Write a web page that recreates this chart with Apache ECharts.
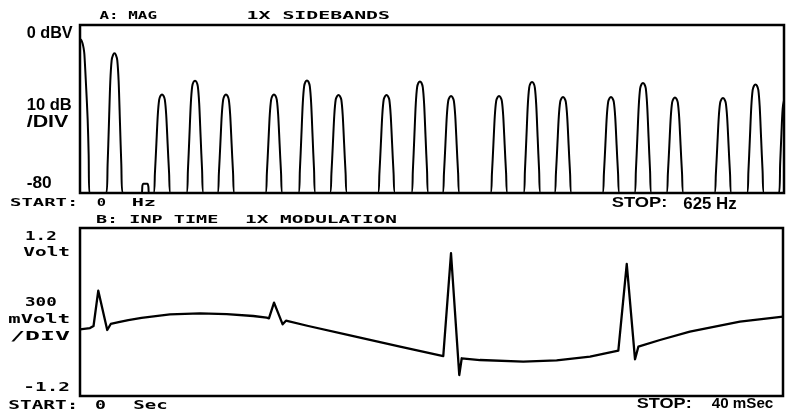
<!DOCTYPE html>
<html>
<head>
<meta charset="utf-8">
<script src="https://cdn.jsdelivr.net/npm/echarts@6/dist/echarts.min.js"></script>
<style>
  html, body { margin: 0; padding: 0; background: #fff; }
  #chart { width: 791px; height: 415px; }
</style>
</head>
<body>
<div id="chart"></div>
<script>
// Trace A: magnitude spectrum, [frequency Hz, level dBV]
const spectrumTrace = [
  [0, -6.7], [1.2, -7.3], [2.3, -8.8], [3.2, -11], [3.9, -14], [5.3, -28], [6.8, -45], [7.7, -62], [8.4, -80],
  [23.3, -80], [24.5, -66.7], [25.7, -46.8], [26.9, -26.8], [28.1, -16.8], [29.3, -14.3], [30.6, -13.5], [31.9, -14.3], [33.1, -16.8], [34.3, -26.8], [35.5, -46.8], [36.7, -66.7], [37.9, -80],
  [54.8, -80], [55.4, -76.5], [56.2, -75.6], [59.8, -75.6], [60.7, -77], [61.2, -80],
  [65.2, -80], [66.5, -70.6], [67.8, -56.6], [69.1, -42.5], [70.3, -35.5], [71.5, -33.7], [72.8, -33.1], [74.1, -33.7], [75.3, -35.5], [76.5, -42.5], [77.8, -56.6], [79.1, -70.6], [80.4, -80],
  [94.5, -80], [95.8, -69.3], [97.1, -53.3], [98.4, -37.2], [99.6, -29.2], [100.8, -27.1], [102.1, -26.5], [103.4, -27.1], [104.6, -29.2], [105.8, -37.2], [107.1, -53.3], [108.4, -69.3], [109.7, -80],
  [122.0, -80], [123.3, -70.6], [124.6, -56.6], [125.9, -42.5], [127.1, -35.5], [128.3, -33.7], [129.6, -33.1], [130.9, -33.7], [132.1, -35.5], [133.3, -42.5], [134.6, -56.6], [135.9, -70.6], [137.2, -80],
  [164.6, -80], [165.9, -70.6], [167.2, -56.6], [168.5, -42.5], [169.7, -35.5], [170.9, -33.7], [172.2, -33.1], [173.5, -33.7], [174.7, -35.5], [175.9, -42.5], [177.2, -56.6], [178.5, -70.6], [179.8, -80],
  [193.9, -80], [195.2, -69.2], [196.5, -53.2], [197.8, -37.1], [199.0, -29.1], [200.2, -27.0], [201.5, -26.4], [202.8, -27.0], [204.0, -29.1], [205.2, -37.1], [206.5, -53.2], [207.8, -69.2], [209.1, -80],
  [221.9, -80], [223.2, -70.7], [224.5, -56.7], [225.8, -42.6], [227.0, -35.6], [228.2, -33.9], [229.5, -33.3], [230.8, -33.9], [232.0, -35.6], [233.2, -42.6], [234.5, -56.7], [235.8, -70.7], [237.1, -80],
  [264.5, -80], [265.8, -70.7], [267.1, -56.7], [268.4, -42.6], [269.6, -35.6], [270.8, -33.9], [272.1, -33.3], [273.4, -33.9], [274.6, -35.6], [275.8, -42.6], [277.1, -56.7], [278.4, -70.7], [279.7, -80],
  [294.2, -80], [295.5, -69.4], [296.8, -53.5], [298.1, -37.5], [299.3, -29.6], [300.5, -27.5], [301.8, -26.9], [303.1, -27.5], [304.3, -29.6], [305.5, -37.5], [306.8, -53.5], [308.1, -69.4], [309.4, -80],
  [321.8, -80], [323.1, -70.8], [324.4, -56.9], [325.7, -43.0], [326.9, -36.1], [328.1, -34.4], [329.4, -33.8], [330.7, -34.4], [331.9, -36.1], [333.1, -43.0], [334.4, -56.9], [335.7, -70.8], [337.0, -80],
  [364.4, -80], [365.7, -70.8], [367.0, -56.9], [368.3, -43.0], [369.5, -36.1], [370.7, -34.4], [372.0, -33.8], [373.3, -34.4], [374.5, -36.1], [375.7, -43.0], [377.0, -56.9], [378.3, -70.8], [379.6, -80],
  [393.7, -80], [395.0, -69.4], [396.3, -53.6], [397.6, -37.7], [398.8, -29.8], [400.0, -27.7], [401.3, -27.1], [402.6, -27.7], [403.8, -29.8], [405.0, -37.7], [406.3, -53.6], [407.6, -69.4], [408.9, -80],
  [421.2, -80], [422.5, -70.9], [423.8, -57.2], [425.1, -43.4], [426.3, -36.6], [427.5, -34.9], [428.8, -34.3], [430.1, -34.9], [431.3, -36.6], [432.5, -43.4], [433.8, -57.2], [435.1, -70.9], [436.4, -80],
  [463.8, -80], [465.1, -70.9], [466.4, -57.2], [467.7, -43.4], [468.9, -36.6], [470.1, -34.9], [471.4, -34.3], [472.7, -34.9], [473.9, -36.6], [475.1, -43.4], [476.4, -57.2], [477.7, -70.9], [479.0, -80],
  [492.2, -80], [493.5, -69.5], [494.8, -53.8], [496.1, -38.1], [497.3, -30.2], [498.5, -28.2], [499.8, -27.6], [501.1, -28.2], [502.3, -30.2], [503.5, -38.1], [504.8, -53.8], [506.1, -69.5], [507.4, -80],
  [520.6, -80], [521.9, -70.9], [523.2, -57.3], [524.5, -43.6], [525.7, -36.8], [526.9, -35.1], [528.2, -34.5], [529.5, -35.1], [530.7, -36.8], [531.9, -43.6], [533.2, -57.3], [534.5, -70.9], [535.8, -80],
  [563.2, -80], [564.5, -71.0], [565.8, -57.4], [567.1, -43.8], [568.3, -37.1], [569.5, -35.3], [570.8, -34.8], [572.1, -35.3], [573.3, -37.1], [574.5, -43.8], [575.8, -57.4], [577.1, -71.0], [578.4, -80],
  [592.1, -80], [593.4, -69.7], [594.7, -54.2], [596.0, -38.6], [597.2, -30.9], [598.4, -28.9], [599.7, -28.3], [601.0, -28.9], [602.2, -30.9], [603.4, -38.6], [604.7, -54.2], [606.0, -69.7], [607.3, -80],
  [620.5, -80], [621.6, -66], [622.7, -52], [623.8, -40], [625.0, -36], [626.3, -34.5]
];

// Trace B: input time record, [time ms, volts]
const timeTrace = [
  [0, -0.247], [0.57, -0.23], [0.77, -0.2], [1.04, 0.304], [1.55, -0.257], [1.75, -0.171],
  [2.2, -0.145], [2.75, -0.115], [3.5, -0.085], [5.12, -0.035], [6.83, -0.019], [8.35, -0.029],
  [9.86, -0.057], [10.62, -0.081], [10.75, -0.09], [11.04, 0.133], [11.53, -0.176], [11.72, -0.124],
  [12.99, -0.2], [15.3, -0.33], [17.64, -0.461], [18.21, -0.494], [20.67, -0.629], [21.11, 0.839],
  [21.58, -0.9], [21.72, -0.661], [22.76, -0.686], [25.22, -0.71], [27.12, -0.69], [29.02, -0.639],
  [30.63, -0.553], [30.73, -0.543], [31.11, 0.686], [31.58, -0.676], [31.77, -0.496], [33.0, -0.4],
  [34.7, -0.281], [37.55, -0.139], [40, -0.067]
];

// Axis ranges
const freqRange = [0, 625];
const levelRange = [-80, 0];
const timeRange = [0, 40];
const voltRange = [-1.2, 1.2];

// Annotation texts
const panelATitle = ['A: MAG', '1X SIDEBANDS'];
const panelAScale = ['0 dBV', '10 dB', '/DIV', '-80'];
const panelASpan = ['START:', '0', 'Hz', 'STOP:', '625 Hz'];
const panelBTitle = ['B: INP TIME', '1X MODULATION'];
const panelBScale = ['1.2', 'Volt', '300', 'mVolt', '/DIV', '-1.2'];
const panelBSpan = ['START:', '0', 'Sec', 'STOP:', '40 mSec'];

const PLOT = '"DejaVu Sans Mono", monospace';
const SANS = '"Liberation Sans", Arial, sans-serif';

// Text is stretched horizontally to the plotter's wide character cell
const measureCtx = document.createElement('canvas').getContext('2d');
function textItem(text, x0, x1, cy, size, family, weight) {
  weight = weight || 'bold';
  measureCtx.font = weight + ' ' + size + 'px ' + family;
  const w = measureCtx.measureText(text).width;
  return {
    type: 'text', x: x0, y: cy, scaleX: (x1 - x0) / w, silent: true,
    style: {
      text: text, fontSize: size, fontFamily: family, fontWeight: weight,
      fill: '#000', align: 'left', verticalAlign: 'middle'
    }
  };
}

const labels = [
  textItem(panelATitle[0], 99.5, 157, 16.5, 10, PLOT),
  textItem(panelATitle[1], 246.5, 390, 16.5, 10, PLOT),
  textItem(panelAScale[0], 26.7, 72.7, 34, 16, SANS),
  textItem(panelAScale[1], 26.7, 71.7, 105.5, 16, SANS),
  textItem(panelAScale[2], 26.7, 68.3, 123, 16, SANS),
  textItem(panelAScale[3], 26.7, 51.7, 183.5, 16, SANS),
  textItem(panelASpan[0], 10, 78.3, 203, 10, PLOT),
  textItem(panelASpan[1], 96.7, 106, 203, 10, PLOT),
  textItem(panelASpan[2], 131.7, 156, 203, 10, PLOT),
  textItem(panelASpan[3], 611.7, 667.3, 203.5, 14, SANS),
  textItem(panelASpan[4], 683.3, 736.7, 205, 16, SANS),
  textItem(panelBTitle[0], 96, 218.3, 220.5, 10.5, PLOT),
  textItem(panelBTitle[1], 245, 397, 220.5, 10.5, PLOT),
  textItem(panelBScale[0], 25, 56.7, 236.5, 12.5, PLOT),
  textItem(panelBScale[1], 23.3, 70, 253, 12.5, PLOT),
  textItem(panelBScale[2], 25, 56.7, 303, 12.5, PLOT),
  textItem(panelBScale[3], 8.3, 70, 320, 12.5, PLOT),
  textItem(panelBScale[4], 10, 70, 336.5, 12.5, PLOT),
  textItem(panelBScale[5], 23.3, 70, 388, 12.5, PLOT),
  textItem(panelBSpan[0], 8.3, 78.3, 406, 11.5, PLOT),
  textItem(panelBSpan[1], 95, 106, 406, 11.5, PLOT),
  textItem(panelBSpan[2], 133.3, 167.7, 406, 11.5, PLOT),
  textItem(panelBSpan[3], 636.7, 691.7, 404.5, 14, SANS),
  textItem(panelBSpan[4], 711.7, 773.3, 404, 15, SANS)
];

const hiddenAxis = {
  axisLine: { show: false }, axisTick: { show: false },
  axisLabel: { show: false }, splitLine: { show: false }
};

const chart = echarts.init(document.getElementById('chart'), null, { renderer: 'canvas' });
chart.setOption({
  animation: false,
  backgroundColor: '#fff',
  grid: [
    { left: 80, top: 25, width: 704, height: 168, show: true, borderColor: '#000', borderWidth: 2.5, backgroundColor: 'transparent' },
    { left: 80, top: 228, width: 703, height: 168, show: true, borderColor: '#000', borderWidth: 2.5, backgroundColor: 'transparent' }
  ],
  xAxis: [
    Object.assign({ type: 'value', gridIndex: 0, min: freqRange[0], max: freqRange[1] }, hiddenAxis),
    Object.assign({ type: 'value', gridIndex: 1, min: timeRange[0], max: timeRange[1] }, hiddenAxis)
  ],
  yAxis: [
    Object.assign({ type: 'value', gridIndex: 0, min: levelRange[0], max: levelRange[1] }, hiddenAxis),
    Object.assign({ type: 'value', gridIndex: 1, min: voltRange[0], max: voltRange[1] }, hiddenAxis)
  ],
  series: [
    {
      type: 'line', xAxisIndex: 0, yAxisIndex: 0, data: spectrumTrace,
      showSymbol: false, smooth: 0.3, clip: true,
      lineStyle: { color: '#000', width: 2 }
    },
    {
      type: 'line', xAxisIndex: 1, yAxisIndex: 1, data: timeTrace,
      showSymbol: false, smooth: false, clip: true,
      lineStyle: { color: '#000', width: 2.3, join: 'round' }
    }
  ],
  graphic: labels
});
</script>
</body>
</html>
